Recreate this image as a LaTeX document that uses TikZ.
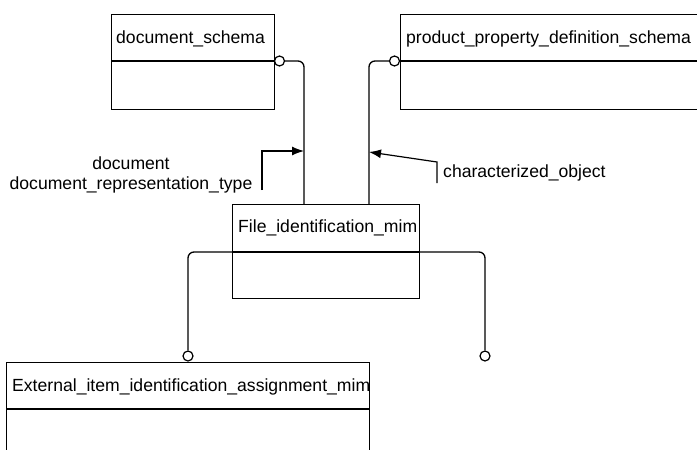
\documentclass[tikz,border=0pt]{standalone}
\usepackage{fontspec}
\setmainfont{Liberation Sans}
\usetikzlibrary{arrows.meta,positioning,calc}

\begin{document}
\begin{tikzpicture}[x=1pt,y=-1pt,
    entity/.style={draw,line width=1.3pt,inner sep=0pt,anchor=north west},
    ename/.style={anchor=base west,inner sep=0pt},
    plug/.style={draw,circle,line width=1.2pt,fill=white,inner sep=0pt,minimum size=10pt},
    rel/.style={line width=1.3pt,rounded corners=6pt},
    lbl/.style={line width=1.2pt,-{Latex[length=12pt,width=9pt]}}]
    \fontsize{17.6}{20.5}\selectfont
    \clip (0,0) rectangle (697,450);
    % entities
    \node[entity,minimum width=163pt,minimum height=95pt] (docschema) at (111,14) {};
    \node[entity,minimum width=320pt,minimum height=95pt] (ppdschema) at (400,14) {};
    \node[entity,minimum width=187pt,minimum height=94pt] (fileid) at (232,204) {};
    \node[entity,minimum width=363pt,minimum height=110pt] (extitem) at (6,362) {};
    \foreach \e in {docschema,ppdschema,extitem}{
      \draw[line width=1.3pt] ($(\e.north west)+(0,47)$) -- ($(\e.north east)+(0,47)$);
    }
    \draw[line width=1.3pt] ($(fileid.north west)+(0,48)$) -- ($(fileid.north east)+(0,48)$);
    \node[ename] (dstitle) at ($(docschema.north west)+(5,29)$) {document\_schema};
    \node[ename] (pptitle) at ($(ppdschema.north west)+(6,29)$) {product\_property\_definition\_schema};
    \node[ename] (fitle) at ($(fileid.north west)+(6,28)$) {File\_identification\_mim};
    \node[ename] (eititle) at ($(extitem.north west)+(6,29)$) {External\_item\_identification\_assignment\_mim};
    % relationships
    \node[plug] (dsplug) at (279.5,61) {};
    \node[plug] (ppplug) at (394.5,61) {};
    \node[plug] (eiplug) at (188,356) {};
    \node[plug] (freeplug) at (485,356) {};
    \coordinate (bus) at ($(fileid.north west)+(0,48)$);
    \draw[rel] (dsplug.east) -| ($(fileid.north west)+(72,0)$);
    \draw[rel] (ppplug.west) -| ($(fileid.north west)+(137,0)$);
    \draw[rel] (eiplug.north) |- (freeplug.north |- bus) -- (freeplug.north);
    % role labels
    \coordinate (dtail) at (262,190);
    \coordinate (ctail) at (437,183);
    \draw[lbl] (dtail) |- ($(fileid.north west)+(72,-53)$);
    \draw[lbl] (ctail) -- ++(0,-21) -- ($(fileid.north west)+(137,-52)$);
    \node[anchor=base,inner sep=0pt] (dlabel) at (131,169) {document};
    \node[anchor=base,inner sep=0pt] (drlabel) at (131,189.5) {document\_representation\_type};
    \node[ename] (clabel) at (443,177.6) {characterized\_object};
\end{tikzpicture}
\end{document}
